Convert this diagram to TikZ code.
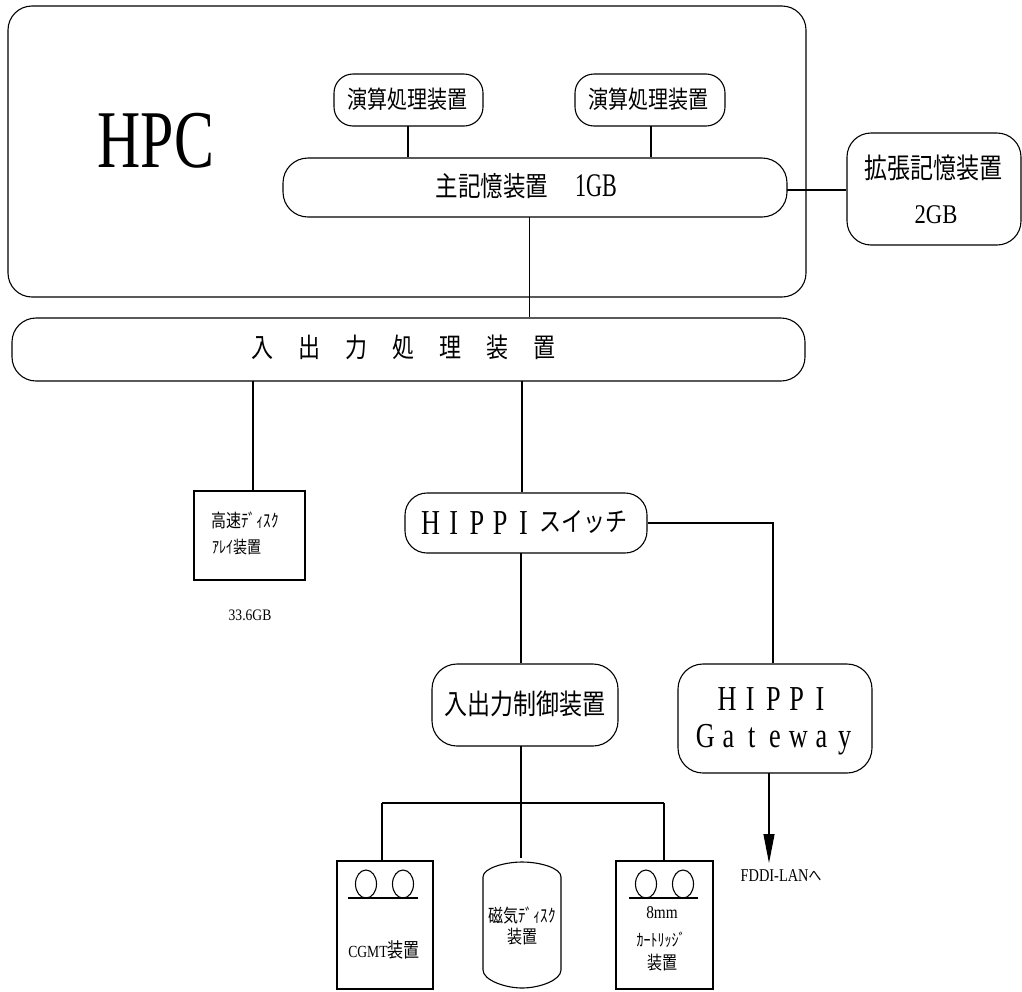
\documentclass[tikz,border=0pt]{standalone}
\usepackage{fontspec}
\usetikzlibrary{shapes.geometric,arrows.meta}
\setmainfont{Liberation Serif}
\newfontfamily\jp{Noto Sans CJK JP}
\tikzset{
 rbox/.style={draw,line width=1.1pt,rounded corners=#1,inner sep=0pt,align=center},
 rbox/.default=24pt,
 sq/.style={draw,line width=1.1pt,inner sep=0pt,align=center},
 wire/.style={line width=1.1pt},
 reel/.style={draw,ellipse,line width=1.1pt,minimum width=21pt,minimum height=28pt,inner sep=0pt},
 jptext/.style={font=\jp\fontsize{#1}{#1}\selectfont,yscale=1.22,inner sep=0pt},
}
\newcommand{\bx}[6][rbox]{\node[#1,minimum width=#4pt-#3pt,minimum height=#6pt-#5pt] (#2) at ({(#3+#4)/2},{(#5+#6)/2}) {};}
\newcommand{\sz}[1]{\fontsize{#1}{#1}\selectfont}
\newcommand{\wl}[1]{\makebox[31pt]{#1}}
\begin{document}
\begin{tikzpicture}[x=1pt,y=-1pt]
\useasboundingbox (0,0) rectangle (1022,991);
\bx[rbox=24pt]{hpc}{8}{806}{6}{297}
\node[font=\sz{82},xscale=.73] (hpclabel) at (156,141) {HPC};
\bx[rbox=19pt]{cpua}{334}{483}{74}{126}
\bx[rbox=19pt]{cpub}{575}{725}{74}{126}
\bx[rbox=25pt]{mem}{283}{787}{158}{217}
\bx[rbox=24pt]{ext}{847}{1021}{133}{245}
\bx[rbox=24pt]{io}{12}{805}{318}{381}
\bx[sq]{disk}{194}{305}{491}{580}
\bx[rbox=22pt]{sw}{405}{647}{493}{553}
\bx[rbox=25pt]{ctl}{432}{618}{664}{746}
\bx[rbox=25pt]{gw}{678}{872}{664}{773}
\bx[sq]{cgmt}{337}{433}{861}{989}
\bx[sq]{cart}{616}{713}{861}{989}
\node[jptext=20] (t1) at (407,99) {演算処理装置};
\node[jptext=20] (t2) at (648,99) {演算処理装置};
\node[jptext=22.5] (t3) at (492,186) {主記憶装置};
\node[font=\sz{33},xscale=.67] (t3b) at (596,186) {1GB};
\node[jptext=23] (t4) at (933,168) {拡張記憶装置};
\node[font=\sz{27},xscale=.84] (t4b) at (936,215) {2GB};
\node[jptext=22] (t5) at (403.5,347) {入\hspace{1.13em}出\hspace{1.13em}力\hspace{1.13em}処\hspace{1.13em}理\hspace{1.13em}装\hspace{1.13em}置};
\node[jptext=15] (t6) at (245,520) {高速ﾃﾞｨｽｸ};
\node[jptext=14,anchor=west] (t6b) at (212,547) {ｱﾚｲ装置};
\node[font=\sz{16},xscale=.85] (t7) at (250,615) {33.6GB};
\node[font=\sz{35},xscale=.75] (t8) at (477,523) {\wl{H}\wl{I}\wl{P}\wl{P}\wl{I}};
\node[jptext=22] (t8b) at (583,522) {スイッチ};
\node[jptext=23] (t9) at (525,704) {入出力制御装置};
\node[font=\sz{35},xscale=.75] (t10) at (773.5,699) {\wl{H}\wl{I}\wl{P}\wl{P}\wl{I}};
\node[font=\sz{35},xscale=.75] (t10b) at (775,740) {\wl{G}\wl{a}\wl{t}\wl{e}\wl{w}\wl{a}\wl{y}};
\node[font=\sz{18},xscale=.8] (t11) at (781,876) {FDDI-LAN{\jp\sz{16}へ}};
\node[font=\sz{17},xscale=.8] (t12) at (384,950) {CGMT{\jp\sz{20}装置}};
\node[jptext=15] (t13) at (522,915) {磁気ﾃﾞｨｽｸ};
\node[jptext=15] (t13b) at (522,937) {装置};
\node[font=\sz{18},xscale=.85] (t14) at (662,913) {8mm};
\node[jptext=14] (t14b) at (661,940) {ｶｰﾄﾘｯｼﾞ};
\node[jptext=15] (t14c) at (662,963) {装置};
% reels
\foreach \n/\cx in {a/366,b/403,c/646,d/683}{
 \node[reel] (reel\n) at (\cx,884) {};
}
\coordinate (la1) at (348,898);\coordinate (la2) at (418,898);
\coordinate (lb1) at (629,898);\coordinate (lb2) at (698,898);
\draw[wire] (la1)--(la2);
\draw[wire] (lb1)--(lb2);
% magnetic disk
\draw[wire] (483,877) .. controls (483,868) and (505,862) .. (522,862) .. controls (540,862) and (561,868) .. (561,877)
 -- (561,970) .. controls (561,980) and (540,988) .. (522,988) .. controls (505,988) and (483,980) .. (483,970) -- cycle;
\coordinate (dsk) at (521,858);
\coordinate (busl) at (382,803);
\coordinate (busr) at (664,803);
\coordinate (busc) at (521,746);
\coordinate (fddi) at (769,863);
\coordinate (gwout) at (769,773);
\coordinate (m) at (529.5,217);
\coordinate (dio) at (253,381);
\coordinate (swi) at (522,381);
\coordinate (sws) at (521,553);
\coordinate (swr) at (773,523);
\coordinate (mr) at (787,190);
\coordinate (ca) at (408,126);
\coordinate (cb) at (651,126);
% connectors
\draw[wire] (ca)--(ca|-mem.north);
\draw[wire] (cb)--(cb|-mem.north);
\draw[wire] (mr)--(mr-|ext.west);
\draw[wire] (m)--(m|-io.north);
\draw[wire] (dio)--(dio|-disk.north);
\draw[wire] (swi)--(swi|-sw.north);
\draw[wire] (sws)--(sws|-ctl.north);
\draw[wire] (swr-|sw.east)--(swr)--(swr|-gw.north);
\draw[wire] (busc)--(dsk);
\draw[wire] (busl)--(busr);
\draw[wire] (busl)--(busl|-cgmt.north);
\draw[wire] (busr)--(busr|-cart.north);
\draw[wire,-{Triangle[length=29pt,width=11pt]}] (gwout)--(fddi);
\end{tikzpicture}
\end{document}
